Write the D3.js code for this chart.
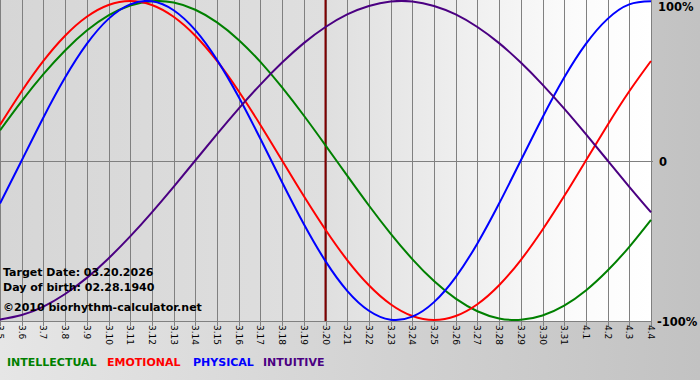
<!DOCTYPE html>
<html><head><meta charset="utf-8">
<script src="https://cdn.jsdelivr.net/npm/d3@7"></script>
<style>html,body{margin:0;padding:0;background:#d0d0d0;}svg{display:block;}</style>
</head><body>
<script>
const days = ["3.5","3.6","3.7","3.8","3.9","3.10","3.11","3.12","3.13","3.14","3.15","3.16","3.17","3.18","3.19","3.20","3.21","3.22","3.23","3.24","3.25","3.26","3.27","3.28","3.29","3.30","3.31","4.1","4.2","4.3","4.4"];
const intellectual = [0.189,0.372,0.541,0.690,0.815,0.910,0.972,0.999,0.990,0.945,0.866,0.756,0.618,0.458,0.282,0.095,-0.095,-0.282,-0.458,-0.618,-0.756,-0.866,-0.945,-0.990,-0.999,-0.972,-0.910,-0.815,-0.690,-0.541,-0.372];
const emotional = [0.223,0.434,0.624,0.782,0.901,0.975,1.0,0.975,0.901,0.782,0.624,0.434,0.223,0,-0.223,-0.434,-0.624,-0.782,-0.901,-0.975,-1.0,-0.975,-0.901,-0.782,-0.624,-0.434,-0.223,0,0.223,0.434,0.624];
const physical = [-0.270,0,0.270,0.520,0.731,0.888,0.979,0.998,0.942,0.817,0.631,0.398,0.136,-0.136,-0.398,-0.631,-0.817,-0.942,-0.998,-0.979,-0.888,-0.731,-0.520,-0.270,0,0.270,0.520,0.731,0.888,0.979,0.998];
const intuitive = [-0.997,-0.969,-0.916,-0.837,-0.736,-0.614,-0.476,-0.325,-0.165,0,0.165,0.325,0.476,0.614,0.736,0.837,0.916,0.969,0.997,0.997,0.969,0.916,0.837,0.736,0.614,0.476,0.325,0.165,0,-0.165,-0.325];
const seriesNames = ["INTELLECTUAL","EMOTIONAL","PHYSICAL","INTUITIVE"];
const seriesColors = ["#008000","#ff0000","#0000ff","#4b0082"];
const yTickValues = [1,0,-1];
const yTickLabels = ["100%","0","-100%"];
const targetDay = "3.20";
const infoLines = ["Target Date: 03.20.2026","Day of birth: 02.28.1940","©2010 biorhythm-calculator.net"];

const W=700,H=380, plotR=651, plotB=321;
const svg=d3.select("body").append("svg").attr("width",W).attr("height",H);
const defs=svg.append("defs");
const og=defs.append("linearGradient").attr("id","outer").attr("x1","0").attr("x2","1").attr("y1","0").attr("y2","0");
og.append("stop").attr("offset","0").attr("stop-color","#e6e6e6");
og.append("stop").attr("offset","1").attr("stop-color","#c2c2c2");
const pg=defs.append("linearGradient").attr("id","plotbg").attr("x1","0").attr("x2","1").attr("y1","0").attr("y2","0");
[[0,"#d6d6d6"],[0.5,"#dfdfdf"],[0.7,"#eeeeee"],[0.88,"#fbfbfb"],[1,"#ffffff"]].forEach(s=>pg.append("stop").attr("offset",s[0]).attr("stop-color",s[1]));
svg.append("rect").attr("width",W).attr("height",H).attr("fill","url(#outer)");
svg.append("rect").attr("x",0).attr("y",0).attr("width",plotR).attr("height",plotB).attr("fill","url(#plotbg)");

const x=d3.scalePoint().domain(days).range([0,plotR]).padding(0);
const y=d3.scaleLinear().domain([-1,1]).range([320,1]);

// vertical grid
svg.append("g").selectAll("line").data(days).join("line")
  .attr("x1",d=>Math.round(x(d))+0.5).attr("x2",d=>Math.round(x(d))+0.5)
  .attr("y1",0).attr("y2",plotB+5).attr("stroke","#808080").attr("stroke-width",1);
// zero line & bottom
svg.append("line").attr("x1",0).attr("x2",plotR+2).attr("y1",Math.round(y(0))+0.5).attr("y2",Math.round(y(0))+0.5).attr("stroke","#808080");
svg.append("line").attr("x1",0).attr("x2",plotR+1).attr("y1",plotB+0.5).attr("y2",plotB+0.5).attr("stroke","#808080");

// x tick labels
svg.append("g").selectAll("text").data(days).join("text")
  .attr("transform",d=>`translate(${Math.round(x(d))+0.5},${plotB+4}) rotate(90)`)
  .attr("dy","0.35em").attr("font-family","DejaVu Sans").attr("font-size","9px").attr("fill","#000")
  .text(d=>d);

// target line
svg.append("line").attr("x1",x(targetDay)).attr("x2",x(targetDay)).attr("y1",0).attr("y2",plotB)
  .attr("stroke","#800000").attr("stroke-width",2);

// curves
const line=d3.line().x((d,i)=>x(days[i])).y(d=>y(d)).curve(d3.curveNatural);
[intellectual,emotional,physical,intuitive].forEach((s,i)=>{
  svg.append("path").datum(s).attr("d",line).attr("fill","none").attr("stroke",seriesColors[i]).attr("stroke-width",2);
});

// right axis labels
const yLabelY=[11,166,326];
const yLabelX=[658,659,657];
yTickValues.forEach((v,i)=>{
  svg.append("text").attr("x",yLabelX[i]).attr("y",yLabelY[i]).attr("font-family","DejaVu Sans").attr("font-weight","bold")
    .attr("font-size","11.5px").attr("fill","#000").text(yTickLabels[i]);
});

// info text
const infoY=[276,291,311];
infoLines.forEach((t,i)=>{
  svg.append("text").attr("x",3).attr("y",infoY[i]).attr("font-family","DejaVu Sans").attr("font-weight","bold")
    .attr("font-size","11px").attr("fill","#000").text(t);
});

// legend
const legX=[7,107,193,263];
seriesNames.forEach((n,i)=>{
  svg.append("text").attr("x",legX[i]).attr("y",366).attr("font-family","DejaVu Sans").attr("font-weight","bold")
    .attr("font-size","11px").attr("fill",seriesColors[i]).text(n);
});
</script>
</body></html>
